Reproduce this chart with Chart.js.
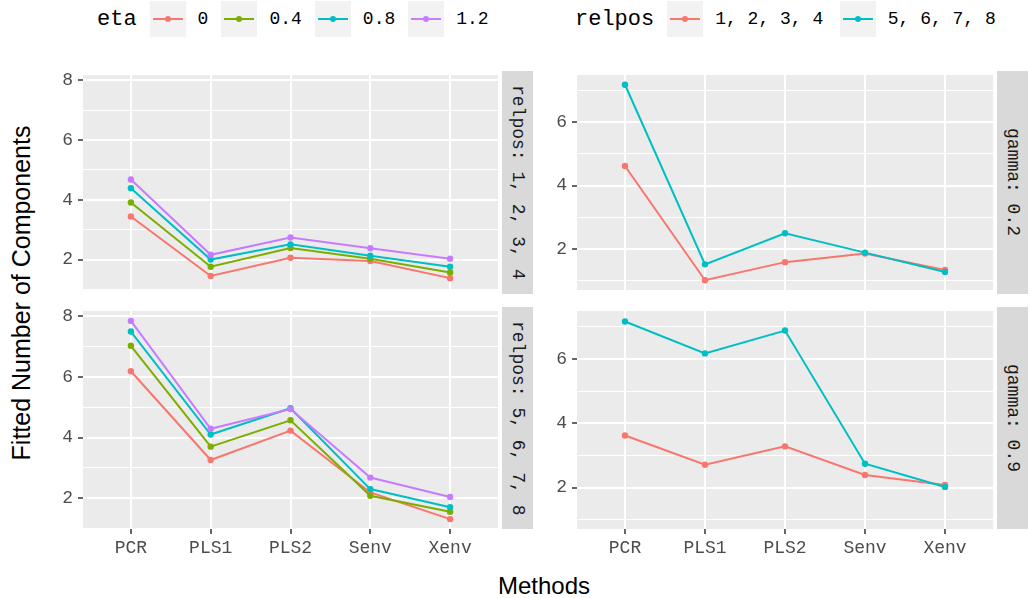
<!DOCTYPE html>
<html>
<head>
<meta charset="utf-8">
<script src="https://cdn.jsdelivr.net/npm/chart.js@4.4.1/dist/chart.umd.min.js"></script>
<style>
  html, body { margin: 0; padding: 0; background: #fff; }
  #page { position: relative; width: 1030px; height: 598px; overflow: hidden; }
  #page canvas { position: absolute; }
  .mono { font-family: "Liberation Mono", "DejaVu Sans Mono", monospace; }
  .strip { position: absolute; background: #D9D9D9; color: #1A1A1A; font-size: 18px;
           display: flex; align-items: center; justify-content: center; }
  .strip span { writing-mode: vertical-rl; white-space: pre; }
  .legend { position: absolute; top: 1px; height: 36px; display: flex; align-items: center; }
  .legend .title { font-size: 22px; color: #000; margin-right: 13px; }
  .legend .key { position: relative; width: 36px; height: 36px; background: #F2F2F2; margin-right: 12px; flex: none; }
  .legend .key .ln { position: absolute; left: 3px; right: 3px; top: 17px; height: 2px; }
  .legend .key .pt { position: absolute; left: 15px; top: 15px; width: 6px; height: 6px; border-radius: 50%; }
  .legend .lab { font-size: 18px; color: #000; margin-right: 13px; white-space: pre; }
  #legend-right .lab { margin-right: 16.5px; }
  .axis-title { position: absolute; font-family: "Liberation Sans", Arial, sans-serif; font-size: 24px;
                line-height: 24px; white-space: nowrap; color: #000; }
</style>
</head>
<body>
<div id="page">
  <canvas id="c-left-top" width="462" height="223" style="left:40px; top:71px;"></canvas>
  <canvas id="c-left-bot" width="462" height="254" style="left:40px; top:307px;"></canvas>
  <canvas id="c-right-top" width="463" height="223" style="left:534px; top:71px;"></canvas>
  <canvas id="c-right-bot" width="463" height="254" style="left:534px; top:307px;"></canvas>

  <div class="strip mono" id="s-left-top" style="left:502px; top:71px; width:31px; height:223px;"></div>
  <div class="strip mono" id="s-left-bot" style="left:502px; top:307px; width:31px; height:222px;"></div>
  <div class="strip mono" id="s-right-top" style="left:997px; top:71px; width:31px; height:223px;"></div>
  <div class="strip mono" id="s-right-bot" style="left:997px; top:307px; width:31px; height:222px;"></div>

  <div class="legend mono" id="legend-left" style="left:97px;"></div>
  <div class="legend mono" id="legend-right" style="left:575px;"></div>

  <div class="axis-title" id="y-title" style="left:21px; top:293px; font-size:25px; transform: translate(-50%, -50%) rotate(-90deg);">Fitted Number of Components</div>
  <div class="axis-title" id="x-title" style="left:544px; top:574px; transform: translateX(-50%);">Methods</div>
</div>
<script>
// Категории по оси X и уровни факторов
const methods = ['PCR', 'PLS1', 'PLS2', 'Senv', 'Xenv'];
const etaLevels = ['0', '0.4', '0.8', '1.2'];
const relposLevels = ['1, 2, 3, 4', '5, 6, 7, 8'];
const gammaLevels = ['0.2', '0.9'];

// Деления оси Y: подписанные и промежуточные
const yMajor = [2, 4, 6, 8];
const yMinor = [1, 3, 5, 7];

// Левая часть: панели по relpos, серии по eta
const relpos1_eta0 = [3.44, 1.45, 2.06, 1.95, 1.38];
const relpos1_eta04 = [3.91, 1.76, 2.39, 2.03, 1.57];
const relpos1_eta08 = [4.39, 2.00, 2.51, 2.13, 1.76];
const relpos1_eta12 = [4.68, 2.16, 2.74, 2.38, 2.03];

const relpos5_eta0 = [6.19, 3.26, 4.23, 2.19, 1.31];
const relpos5_eta04 = [7.03, 3.70, 4.57, 2.08, 1.55];
const relpos5_eta08 = [7.50, 4.10, 4.97, 2.30, 1.70];
const relpos5_eta12 = [7.85, 4.29, 4.94, 2.68, 2.04];

// Правая часть: панели по gamma, серии по relpos
const gamma02_relpos1 = [4.62, 1.02, 1.59, 1.86, 1.34];
const gamma02_relpos5 = [7.18, 1.52, 2.50, 1.89, 1.28];
const gamma09_relpos1 = [3.62, 2.71, 3.28, 2.39, 2.08];
const gamma09_relpos5 = [7.16, 6.17, 6.88, 2.74, 2.02];

const etaColors = ['#F8766D', '#7CAE00', '#00BFC4', '#C77CFF'];
const relposColors = ['#F8766D', '#00BFC4'];

const TICK_FONT = { family: "'Liberation Mono', 'DejaVu Sans Mono', monospace", size: 18 };
const Y_AXIS_WIDTH = 43;
const X_AXIS_HEIGHT = 32;

/**
 * Серый фон области построения, как в ggplot.
 */
const panelBg = {
    id: 'panelBg',
    beforeDraw(chart) {
        const { ctx, chartArea: a } = chart;
        ctx.save();
        ctx.fillStyle = '#EBEBEB';
        ctx.fillRect(a.left, a.top, a.right - a.left, a.bottom - a.top);
        ctx.restore();
    }
};

/**
 * Диапазон оси Y общий для столбца панелей: данные плюс 5% с каждой стороны.
 */
const expandRange = (arrays) => {
    const all = arrays.flat();
    const lo = Math.min(...all);
    const hi = Math.max(...all);
    const pad = (hi - lo) * 0.05;
    return [lo - pad, hi + pad];
};

/**
 * Chart.js сам добавляет отступы под крайние подписи — убираем их,
 * чтобы панель занимала ровно заданную область холста.
 */
const noPadding = (s) => {
    s.paddingTop = s.paddingBottom = s.paddingLeft = s.paddingRight = 0;
};

const isMajor = (c) => c.tick && yMajor.includes(c.tick.value);

const makePanel = (id, series, colors, yLim, showX) => {
    const datasets = series.map((vals, i) => ({
        data: vals.map((v, j) => ({ x: j, y: v })),
        borderColor: colors[i],
        backgroundColor: colors[i],
        pointBackgroundColor: colors[i],
        pointBorderWidth: 0,
        pointRadius: 3.2,
        borderWidth: 2,
        tension: 0,
        fill: false,
        order: -i
    }));

    return new Chart(document.getElementById(id).getContext('2d'), {
        type: 'line',
        data: { datasets },
        options: {
            responsive: false,
            animation: false,
            devicePixelRatio: 1,
            layout: { padding: 0 },
            plugins: { legend: { display: false }, tooltip: { enabled: false } },
            scales: {
                x: {
                    type: 'linear',
                    min: -0.6,
                    max: methods.length - 1 + 0.6,
                    afterBuildTicks: (s) => { s.ticks = methods.map((m, i) => ({ value: i })); },
                    afterFit: (s) => {
                        s.height = showX ? X_AXIS_HEIGHT : 0;
                        noPadding(s);
                    },
                    grid: {
                        color: '#FFFFFF',
                        lineWidth: 2,
                        drawTicks: showX,
                        tickLength: 5,
                        tickColor: '#333333',
                        tickWidth: 1.5
                    },
                    border: { display: false },
                    ticks: {
                        display: showX,
                        padding: 3,
                        color: '#4D4D4D',
                        font: TICK_FONT,
                        maxRotation: 0,
                        autoSkip: false,
                        callback: (v) => methods[v]
                    }
                },
                y: {
                    type: 'linear',
                    min: yLim[0],
                    max: yLim[1],
                    afterBuildTicks: (s) => {
                        s.ticks = [...yMinor, ...yMajor]
                            .sort((a, b) => a - b)
                            .filter((v) => v >= s.min && v <= s.max)
                            .map((v) => ({ value: v }));
                    },
                    afterFit: (s) => {
                        s.width = Y_AXIS_WIDTH;
                        noPadding(s);
                    },
                    grid: {
                        color: '#FFFFFF',
                        lineWidth: (c) => isMajor(c) ? 2 : 1,
                        tickLength: 5,
                        tickColor: (c) => isMajor(c) ? '#333333' : 'rgba(0,0,0,0)',
                        tickWidth: 1.5
                    },
                    border: { display: false },
                    ticks: {
                        padding: 5,
                        color: '#4D4D4D',
                        font: TICK_FONT,
                        callback: (v) => yMajor.includes(v) ? String(v) : ''
                    }
                }
            }
        },
        plugins: [panelBg]
    });
};

const setStrip = (id, text) => {
    const span = document.createElement('span');
    span.textContent = text;
    document.getElementById(id).appendChild(span);
};

const buildLegend = (id, title, labels, colors) => {
    const box = document.getElementById(id);
    const t = document.createElement('span');
    t.className = 'title';
    t.textContent = title;
    box.appendChild(t);
    labels.forEach((lab, i) => {
        const key = document.createElement('div');
        key.className = 'key';
        key.innerHTML = `<div class="ln" style="background:${colors[i]}"></div><div class="pt" style="background:${colors[i]}"></div>`;
        box.appendChild(key);
        const l = document.createElement('span');
        l.className = 'lab';
        l.textContent = lab;
        box.appendChild(l);
    });
};

const leftTop = [relpos1_eta0, relpos1_eta04, relpos1_eta08, relpos1_eta12];
const leftBot = [relpos5_eta0, relpos5_eta04, relpos5_eta08, relpos5_eta12];
const rightTop = [gamma02_relpos1, gamma02_relpos5];
const rightBot = [gamma09_relpos1, gamma09_relpos5];

const leftLim = expandRange([...leftTop, ...leftBot]);
const rightLim = expandRange([...rightTop, ...rightBot]);

makePanel('c-left-top', leftTop, etaColors, leftLim, false);
makePanel('c-left-bot', leftBot, etaColors, leftLim, true);
makePanel('c-right-top', rightTop, relposColors, rightLim, false);
makePanel('c-right-bot', rightBot, relposColors, rightLim, true);

setStrip('s-left-top', 'relpos: ' + relposLevels[0]);
setStrip('s-left-bot', 'relpos: ' + relposLevels[1]);
setStrip('s-right-top', 'gamma: ' + gammaLevels[0]);
setStrip('s-right-bot', 'gamma: ' + gammaLevels[1]);

buildLegend('legend-left', 'eta', etaLevels, etaColors);
buildLegend('legend-right', 'relpos', relposLevels, relposColors);
</script>
</body>
</html>
